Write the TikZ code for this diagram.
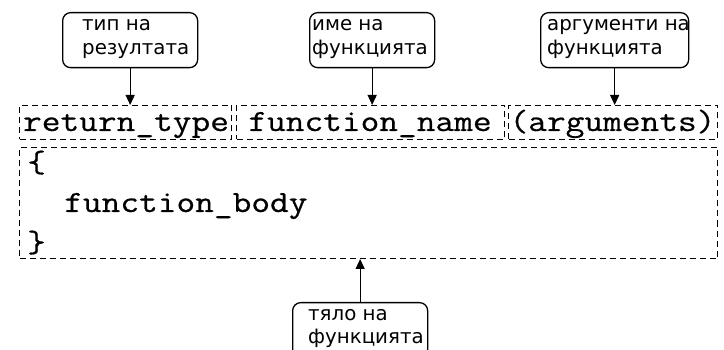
\documentclass[tikz,border=0pt]{standalone}
\usepackage{fontspec}
\setmainfont{DejaVu Sans}
\newfontfamily\codefont[FakeStretch=1.18,FakeBold=0.6]{Latin Modern Mono}
\usetikzlibrary{arrows.meta}
\begin{document}
\begin{tikzpicture}[x=1pt,y=-1pt,
  rbox/.style={draw, line width=1.3pt, rounded corners=8pt, inner sep=0pt, anchor=north west},
  dbox/.style={draw, line width=1pt, dash pattern=on 6pt off 4pt, inner sep=0pt, anchor=north west},
  lbl/.style={font=\fontsize{19.8}{24}\selectfont, align=left, inner sep=0pt, anchor=base west},
  code/.style={font=\codefont\fontsize{30.8}{40}\selectfont, inner sep=0pt},
  arr/.style={line width=1.3pt, -{Triangle[length=10pt,width=9pt]}}]
\useasboundingbox (0,0) rectangle (724,350);
% label boxes
\node[rbox, minimum width=135pt, minimum height=55pt] (b1) at (62,12) {};
\node[rbox, minimum width=125pt, minimum height=55pt] (b2) at (309,12) {};
\node[rbox, minimum width=148pt, minimum height=55pt] (b3) at (540,12) {};
\node[rbox, minimum width=135pt, minimum height=55pt] (b4) at (292,302) {};
\node[lbl] (t1) at (82,55) {тип на\\резултата};
\node[lbl] (t2) at (312,55) {име на\\функцията};
\node[lbl] (t3) at (547,55) {аргументи на\\функцията};
\node[lbl] (t4) at (308,344) {тяло на\\функцията};
% dashed code boxes
\node[dbox, minimum width=212pt, minimum height=34pt] (rt) at (19,105) {};
\node[dbox, minimum width=268pt, minimum height=34pt] (fn) at (236,105) {};
\node[dbox, minimum width=209pt, minimum height=34pt] (ar) at (508,105) {};
\node[dbox, minimum width=698pt, minimum height=111pt] (body) at (19,147) {};
\node[code, anchor=base] (rtt) at (126,131) {return\_type};
\node[code, anchor=base] (fnt) at (370,131) {function\_name};
\node[code, anchor=base] (art) at (612.5,131) {(arguments)};
\node[code, anchor=base west] (ob) at (27,172) {\{};
\node[code, anchor=base west] (fb) at (64,212) {function\_body};
\node[code, anchor=base west] (cb) at (27,252) {\}};
% arrows
\draw[arr] (b1.south) -- (b1.south |- rt.north);
\draw[arr] (b2.south) -- (b2.south |- fn.north);
\draw[arr] (b3.south) -- (b3.south |- ar.north);
\draw[arr] (b4.north) -- (b4.north |- body.south);
\end{tikzpicture}
\end{document}
